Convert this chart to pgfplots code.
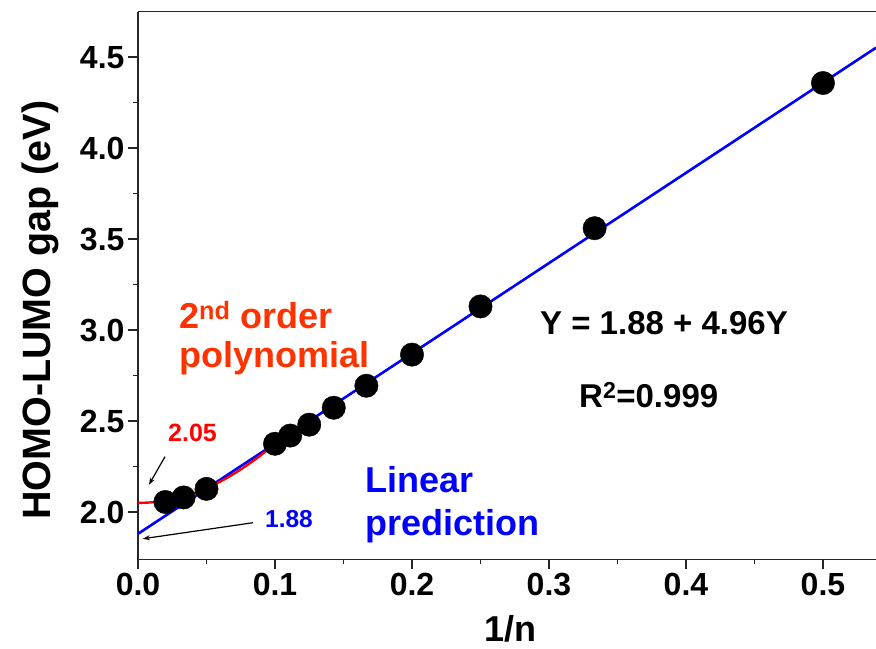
\documentclass[border=0pt]{standalone}
\usepackage{pgfplots}
\pgfplotsset{compat=1.18}
\usepackage{fontspec}
\setmainfont{Liberation Sans}
\usetikzlibrary{arrows.meta}
\definecolor{polyred}{HTML}{FF3300}
\begin{document}
\begin{tikzpicture}
\begin{axis}[
  scale only axis,
  width=738pt, height=547.6pt,
  xmin=0, xmax=0.5387,
  ymin=1.74, ymax=4.75,
  axis x line*=bottom, axis y line*=left,
  axis line style={line width=1.6pt, black!85},
  xtick={0,0.1,0.2,0.3,0.4,0.5},
  ytick={2.0,2.5,3.0,3.5,4.0,4.5},
  minor x tick num=1, minor y tick num=1,
  tick align=outside,
  major tick length=10pt, minor tick length=5pt,
  every tick/.style={line width=1.4pt, black!85},
  /pgf/number format/assume math mode=true,
  xticklabel style={/pgf/number format/.cd, fixed, fixed zerofill, precision=1},
  yticklabel style={/pgf/number format/.cd, fixed, fixed zerofill, precision=1},
  tick label style={font=\bfseries\fontsize{32}{32}\selectfont},
  xlabel={1/n}, ylabel={HOMO-LUMO gap (eV)},
  xlabel style={font=\bfseries\fontsize{36}{36}\selectfont, at={(axis description cs:0.505,-0.1497)}, anchor=base},
  ylabel style={font=\bfseries\fontsize{39.5}{39.5}\selectfont, at={(axis description cs:-0.1192,0.4547)}, anchor=base, rotate=0},
  clip=false,
]
\coordinate (BL) at (rel axis cs:0,0);
\coordinate (TR) at (rel axis cs:1,1);
\draw[line width=1.6pt, black!85] (rel axis cs:0,1) -- (rel axis cs:1,1);
% data points
\addplot[only marks, mark=*, mark size=11.7pt, black] coordinates {
(0.02,2.055) (0.0333,2.08) (0.05,2.127) (0.1,2.375) (0.1111,2.42) (0.125,2.48)
(0.1429,2.573) (0.1667,2.694) (0.2,2.865) (0.25,3.13) (0.3333,3.56) (0.5,4.358)};
% linear fit
\addplot[blue, line width=2.6pt] coordinates {(0,1.88) (0.5387,4.552)};
% polynomial fit
\addplot[red, line width=2.4pt, smooth] coordinates {
(0,2.050) (0.01,2.053) (0.02,2.063) (0.03,2.079) (0.04,2.102) (0.05,2.132)
(0.06,2.167) (0.07,2.210) (0.08,2.259) (0.09,2.314) (0.10,2.376) (0.105,2.409)};
% annotations
\node[anchor=base west, text=polyred, font=\bfseries\fontsize{36}{36}\selectfont, inner sep=0pt] at (axis cs:0.0299,3.007) {2\textsuperscript{nd} order};
\node[anchor=base west, text=polyred, font=\bfseries\fontsize{36}{36}\selectfont, inner sep=0pt] at (axis cs:0.0299,2.793) {polynomial};
\node[anchor=base west, font=\bfseries\fontsize{33}{33}\selectfont, inner sep=0pt] at (axis cs:0.2934,2.974) {Y = 1.88 + 4.96Y};
\node[anchor=base west, font=\bfseries\fontsize{33}{33}\selectfont, inner sep=0pt] at (axis cs:0.3219,2.573) {R\textsuperscript{2}=0.999};
\node[anchor=base west, text=blue, font=\bfseries\fontsize{36}{36}\selectfont, inner sep=0pt] at (axis cs:0.1657,2.106) {Linear};
\node[anchor=base west, text=blue, font=\bfseries\fontsize{36}{36}\selectfont, inner sep=0pt] at (axis cs:0.1657,1.870) {prediction};
\node[anchor=base west, text=red, font=\bfseries\fontsize{25}{25}\selectfont, inner sep=0pt] at (axis cs:0.0219,2.386) {2.05};
\node[anchor=base west, text=blue, font=\bfseries\fontsize{24.5}{24.5}\selectfont, inner sep=0pt] at (axis cs:0.0927,1.914) {1.88};
\draw[-{Stealth[length=7pt,width=5pt]}, line width=1.2pt] (axis cs:0.0197,2.304) -- (axis cs:0.0080,2.150);
\draw[-{Stealth[length=7pt,width=5pt]}, line width=1.2pt] (axis cs:0.0839,1.941) -- (axis cs:0.0036,1.853);
\end{axis}
\pgfresetboundingbox
\useasboundingbox ([xshift=-138pt,yshift=-89pt]BL) rectangle ([yshift=11.7pt]TR);
\end{tikzpicture}
\end{document}
